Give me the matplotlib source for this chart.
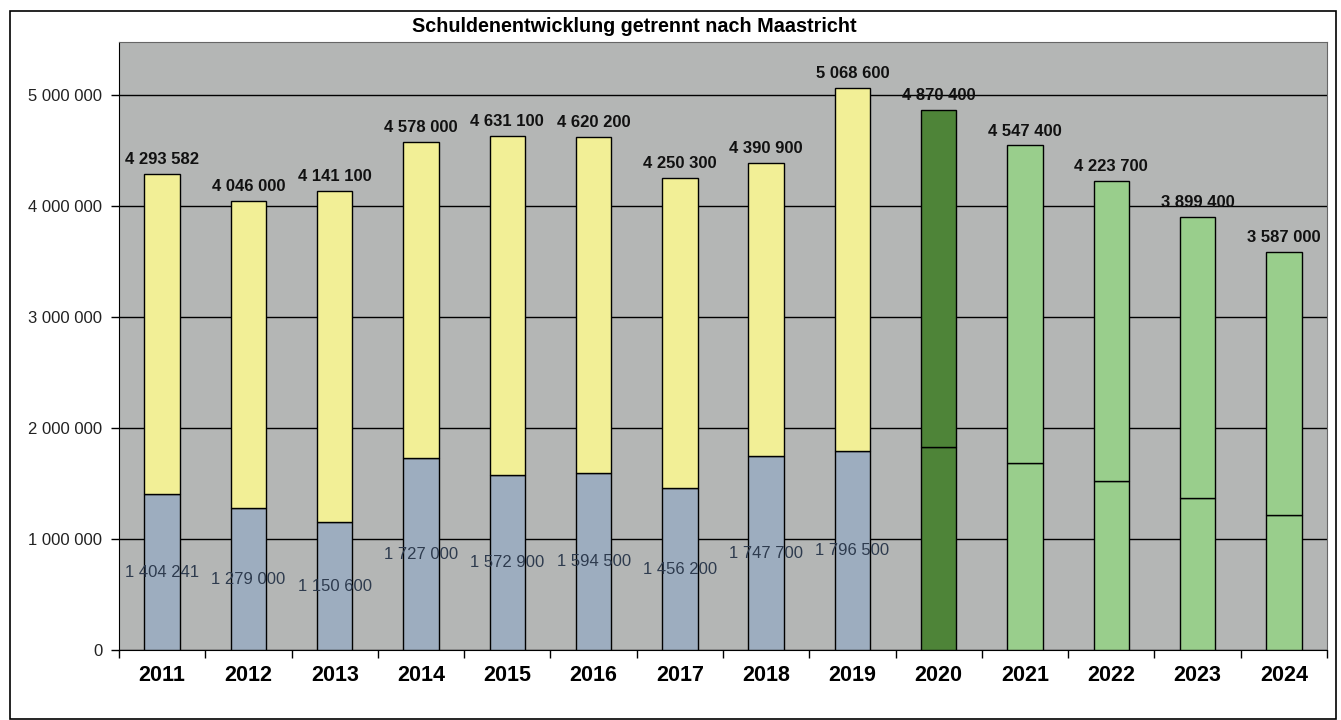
import matplotlib.pyplot as plt
import numpy as np
from matplotlib.patches import Rectangle

plt.rcParams["font.family"] = ["Liberation Sans", "DejaVu Sans"]

YEARS = ["2011", "2012", "2013", "2014", "2015", "2016", "2017",
         "2018", "2019", "2020", "2021", "2022", "2023", "2024"]
TOTAL = [4293582, 4046000, 4141100, 4578000, 4631100, 4620200, 4250300,
         4390900, 5068600, 4870400, 4547400, 4223700, 3899400, 3587000]
MAASTRICHT = [1404241, 1279000, 1150600, 1727000, 1572900, 1594500, 1456200,
              1747700, 1796500, 1830000, 1685000, 1525000, 1370000, 1220000]
LOWER_LABELED = 9  # only the years 2011-2019 carry a label on the lower part

YELLOW, BLUE = "#F2EF96", "#9DADBF"
DARK_GREEN, LIGHT_GREEN = "#4E8438", "#99CE8C"


def fmt(v):
    return f"{v:,}".replace(",", " ")


fig = plt.figure(figsize=(13.41, 7.2), dpi=100)
fig.patches.append(Rectangle((10 / 1341, 1 / 720), 1326 / 1341, 708 / 720,
                             transform=fig.transFigure, fill=False,
                             edgecolor="black", linewidth=1.2))
ax = fig.add_axes([119 / 1341, 70 / 720, 1208 / 1341, 608 / 720])
ax.set_facecolor("#B4B6B5")

x = np.arange(len(YEARS))
total = np.array(TOTAL)
lower = np.array(MAASTRICHT)
upper = total - lower
lower_colors = [BLUE] * 9 + [DARK_GREEN] + [LIGHT_GREEN] * 4
upper_colors = [YELLOW] * 9 + [DARK_GREEN] + [LIGHT_GREEN] * 4

ax.bar(x, lower, width=0.41, color=lower_colors, edgecolor="black", linewidth=1, zorder=3)
ax.bar(x, upper, width=0.41, bottom=lower, color=upper_colors, edgecolor="black",
       linewidth=1, zorder=3)

for i in range(len(YEARS)):
    ax.annotate(fmt(TOTAL[i]), (x[i], TOTAL[i]), xytext=(0, 5), textcoords="offset points",
                ha="center", va="bottom", fontsize=12, fontweight="bold", color="#111111",
                zorder=5)
for i in range(LOWER_LABELED):
    ax.text(x[i], MAASTRICHT[i] / 2, fmt(MAASTRICHT[i]), ha="center", va="center",
            fontsize=12, color="#2E3B4E", zorder=5)

ax.set_xlim(-0.5, len(YEARS) - 0.5)
ax.set_ylim(0, 5480000)
ax.set_yticks(np.arange(0, 5000001, 1000000))
ax.set_yticklabels([fmt(v) for v in range(0, 5000001, 1000000)], fontsize=12,
                   color="#222222")
ax.yaxis.grid(True, color="black", linewidth=1)
ax.set_axisbelow(True)

ax.set_xticks(x)
ax.set_xticklabels(YEARS, fontsize=15.5, fontweight="bold")
ax.tick_params(axis="x", length=0, pad=11)
ax.set_xticks(np.arange(-0.5, len(YEARS), 1), minor=True)
ax.tick_params(axis="x", which="minor", length=6, width=1)
ax.tick_params(axis="y", length=6, width=1, pad=6)

for side in ("top", "right"):
    ax.spines[side].set_color("#666666")
ax.spines["left"].set_color("black")
ax.spines["bottom"].set_color("black")

fig.text(634 / 1341, 1 - 27 / 720, "Schuldenentwicklung getrennt nach Maastricht",
         ha="center", va="center", fontsize=14.2, fontweight="bold")

fig.savefig("out.png", dpi=100)
